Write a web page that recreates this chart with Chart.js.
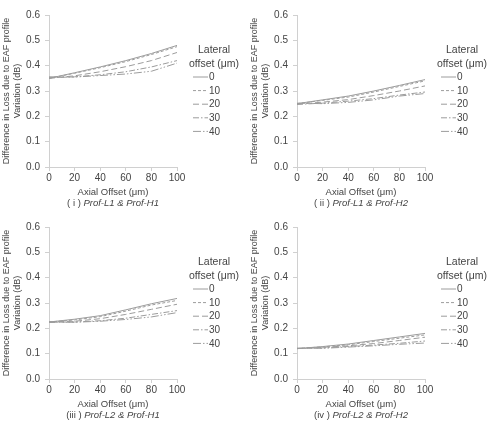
<!DOCTYPE html>
<html>
<head>
<meta charset="utf-8">
<script src="https://cdn.jsdelivr.net/npm/chart.js@4.4.0/dist/chart.umd.min.js"></script>
<style>
  body { margin: 0; background: #fff; }
  #wrap { position: relative; width: 490px; height: 421px; overflow: hidden; }
  .panel { position: absolute; width: 245px; height: 210px; }
</style>
</head>
<body>
<div id="wrap">
  <div class="panel" style="left:0;top:0"><canvas id="c1" width="245" height="210"></canvas></div>
  <div class="panel" style="left:248px;top:0"><canvas id="c2" width="245" height="210"></canvas></div>
  <div class="panel" style="left:0;top:212px"><canvas id="c3" width="245" height="210"></canvas></div>
  <div class="panel" style="left:248px;top:212px"><canvas id="c4" width="245" height="210"></canvas></div>
</div>
<script>
// data
const axialOffset = [0, 20, 40, 60, 80, 100];
const lateralOffset = ["0", "10", "20", "30", "40"];
const yTicks = [0, 0.1, 0.2, 0.3, 0.4, 0.5, 0.6];

// one row per lateral offset (0, -10, -20, -30, -40)
const profL1H1 = [
  [0.350, 0.372, 0.395, 0.420, 0.448, 0.480],
  [0.350, 0.370, 0.392, 0.416, 0.444, 0.475],
  [0.350, 0.360, 0.376, 0.396, 0.420, 0.452],
  [0.352, 0.356, 0.364, 0.376, 0.395, 0.420],
  [0.356, 0.355, 0.361, 0.367, 0.378, 0.410]
];
const profL1H2 = [
  [0.250, 0.265, 0.280, 0.300, 0.322, 0.345],
  [0.250, 0.263, 0.276, 0.296, 0.318, 0.340],
  [0.248, 0.256, 0.266, 0.282, 0.300, 0.320],
  [0.247, 0.252, 0.260, 0.270, 0.284, 0.296],
  [0.252, 0.250, 0.255, 0.265, 0.280, 0.290]
];
const profL2H1 = [
  [0.225, 0.236, 0.250, 0.273, 0.297, 0.318],
  [0.225, 0.233, 0.246, 0.268, 0.292, 0.310],
  [0.225, 0.228, 0.238, 0.255, 0.275, 0.295],
  [0.224, 0.225, 0.230, 0.240, 0.255, 0.270],
  [0.224, 0.224, 0.228, 0.235, 0.245, 0.262]
];
const profL2H2 = [
  [0.120, 0.128, 0.138, 0.152, 0.166, 0.180],
  [0.120, 0.127, 0.135, 0.148, 0.161, 0.174],
  [0.120, 0.125, 0.131, 0.140, 0.152, 0.165],
  [0.120, 0.123, 0.128, 0.134, 0.141, 0.150],
  [0.122, 0.121, 0.126, 0.131, 0.137, 0.142]
];

const captions = [
  ["( i ) ", "Prof-L1 & Prof-H1"],
  ["( ii ) ", "Prof-L1 & Prof-H2"],
  ["(iii ) ", "Prof-L2 & Prof-H1"],
  ["(iv ) ", "Prof-L2 & Prof-H2"]
];

const dashes = [[], [3, 2], [6, 3], [6, 2, 1.5, 2], [8, 2, 1.5, 2, 1.5, 2]];
const lineColor = "#9c9c9c";
const textColor = "#444444";
const axisColor = "#d0d0d0";
const FONT = "Liberation Sans, Arial, sans-serif";

// legend + caption drawn by hand (two line title, mixed italic caption)
const extrasPlugin = {
  id: "extras",
  afterDraw(chart, args, opts) {
    const ctx = chart.ctx;
    ctx.save();
    ctx.fillStyle = textColor;
    ctx.textBaseline = "middle";
    ctx.textAlign = "center";
    ctx.font = "10.5px " + FONT;
    ctx.fillText("Lateral", 214, 50);
    ctx.fillText("offset (\u03bcm)", 214, 64);

    ctx.font = "10px " + FONT;
    ctx.textAlign = "left";
    chart.data.datasets.forEach((ds, i) => {
      const y = 77 + i * 13.6;
      ctx.strokeStyle = ds.borderColor;
      ctx.lineWidth = 1;
      ctx.setLineDash(ds.borderDash);
      ctx.beginPath();
      ctx.moveTo(193, y);
      ctx.lineTo(208, y);
      ctx.stroke();
      ctx.setLineDash([]);
      ctx.fillText(ds.label, 209, y + 0.5);
    });

    // caption under the axis title
    const [plain, ital] = opts.caption;
    ctx.font = "9.5px " + FONT;
    const w1 = ctx.measureText(plain).width;
    ctx.font = "italic 9.5px " + FONT;
    const w2 = ctx.measureText(ital).width;
    let x = (chart.chartArea.left + chart.chartArea.right) / 2 - (w1 + w2) / 2;
    ctx.font = "9.5px " + FONT;
    ctx.fillText(plain, x, 203);
    ctx.font = "italic 9.5px " + FONT;
    ctx.fillText(ital, x + w1, 203);
    ctx.restore();
  }
};

function makeChart(id, rows, caption) {
  const datasets = rows.map((vals, i) => ({
    label: lateralOffset[i],
    data: axialOffset.map((x, j) => ({ x: x, y: vals[j] })),
    borderColor: lineColor,
    borderWidth: 1,
    borderDash: dashes[i],
    pointRadius: 0,
    tension: 0,
    fill: false
  }));

  new Chart(document.getElementById(id), {
    type: "line",
    data: { datasets: datasets },
    plugins: [extrasPlugin],
    options: {
      responsive: false,
      devicePixelRatio: 1,
      animation: false,
      events: [],
      layout: { padding: { top: 15, right: 68, left: 0, bottom: 0 } },
      plugins: {
        legend: { display: false },
        tooltip: { enabled: false },
        extras: { caption: caption }
      },
      scales: {
        x: {
          type: "linear",
          min: 0,
          max: 100,
          afterFit: s => { s.height = 43; },
          ticks: { stepSize: 20, color: textColor, padding: 1, font: { size: 10, family: FONT } },
          grid: { drawOnChartArea: false, tickLength: 4, color: axisColor },
          border: { color: axisColor },
          title: {
            display: true,
            text: "Axial Offset (\u03bcm)",
            color: textColor,
            font: { size: 9.5, family: FONT },
            padding: { top: 0, bottom: 12 }
          }
        },
        y: {
          min: 0,
          max: 0.6,
          afterFit: s => { s.width = 49; },
          afterBuildTicks: s => { s.ticks = yTicks.map(v => ({ value: v })); },
          ticks: {
            color: textColor,
            padding: 5,
            font: { size: 10, family: FONT },
            callback: v => Number(v).toFixed(1)
          },
          grid: { drawOnChartArea: false, tickLength: 4, color: axisColor },
          border: { color: axisColor },
          title: {
            display: true,
            text: ["Difference in Loss due to EAF profile", "Variation (dB)"],
            color: textColor,
            font: { size: 9, family: FONT },
            padding: { top: 1, bottom: 0 }
          }
        }
      }
    }
  });
}

makeChart("c1", profL1H1, captions[0]);
makeChart("c2", profL1H2, captions[1]);
makeChart("c3", profL2H1, captions[2]);
makeChart("c4", profL2H2, captions[3]);
</script>
</body>
</html>
